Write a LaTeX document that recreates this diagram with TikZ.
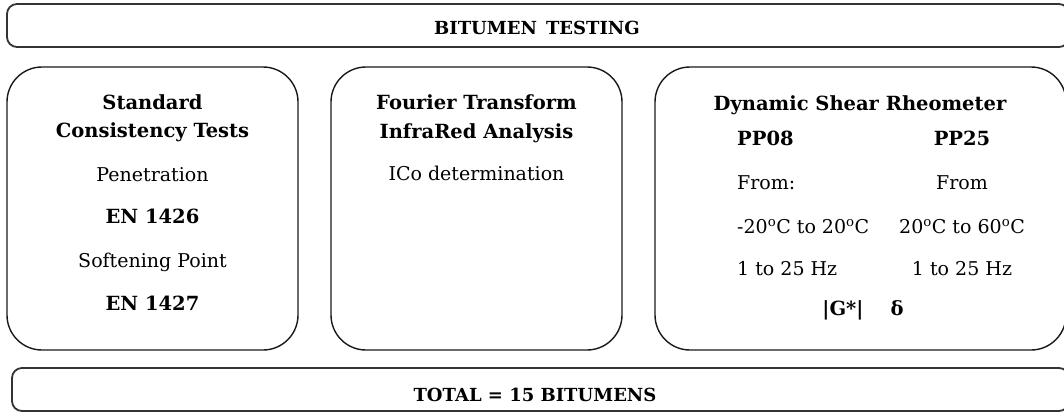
\documentclass[tikz,border=0pt]{standalone}
\usepackage{fontspec}
\setmainfont{DejaVu Serif}
\begin{document}
\begin{tikzpicture}[x=1pt,y=-1pt,
  bar/.style={draw=black!80, line width=1.8pt, rounded corners=10pt, inner sep=0pt},
  panel/.style={draw=black!90, line width=1.4pt, rounded corners=35pt, inner sep=0pt, minimum height=283pt},
  txt/.style={anchor=base, inner sep=0pt, font=\fontsize{19}{22}\selectfont},
  btxt/.style={txt, font=\fontsize{19.5}{22}\selectfont\bfseries},
  bartxt/.style={txt, font=\fontsize{18}{21}\selectfont\bfseries},
  ltxt/.style={txt, anchor=base west}
]
\useasboundingbox (0,0) rectangle (1064,412);
\clip (0,0) rectangle (1064,412);
% bars
\node[bar, minimum width=1062pt, minimum height=43pt] (top) at (538,25.5) {};
\node[bar, minimum width=1057pt, minimum height=43pt] (bottom) at (540.5,389.5) {};
% panels
\node[panel, minimum width=291pt] (p1) at (152.5,208.5) {};
\node[panel, minimum width=291pt] (p2) at (476.5,208.5) {};
\node[panel, minimum width=411pt] (p3) at (860.5,208.5) {};
% bar texts
\node[bartxt] (ttl) at (537,35) {BITUMEN\hspace{0.5em}TESTING};
\node[bartxt] (tot) at (535,401) {TOTAL = 15 BITUMENS};
% panel 1
\node[btxt] (a1) at (152.5,109) {Standard};
\node[btxt] (a2) at (152.5,137) {Consistency Tests};
\node[txt]  (a3) at (152.5,181) {Penetration};
\node[btxt] (a4) at (152.5,223) {EN 1426};
\node[txt]  (a5) at (152.5,267) {Softening Point};
\node[btxt] (a6) at (152.5,310.5) {EN 1427};
% panel 2
\node[btxt] (b1) at (476.5,109) {Fourier Transform};
\node[btxt] (b2) at (476.5,138) {InfraRed Analysis};
\node[txt]  (b3) at (476.5,180) {ICo determination};
% panel 3
\node[btxt] (c0) at (860,110) {Dynamic Shear Rheometer};
\node[btxt, anchor=base west] (c1) at (737,145) {PP08};
\node[ltxt] (c2) at (737,189) {From:};
\node[ltxt] (c3) at (737,233) {-20\textsuperscript{o}C to 20\textsuperscript{o}C};
\node[ltxt] (c4) at (737,275) {1 to 25 Hz};
\node[btxt] (d1) at (962,145) {PP25};
\node[txt]  (d2) at (962,189) {From};
\node[txt]  (d3) at (962,233) {20\textsuperscript{o}C to 60\textsuperscript{o}C};
\node[txt]  (d4) at (962,275) {1 to 25 Hz};
\node[btxt] (e1) at (843,315) {|G*|};
\node[btxt] (e2) at (897,315) {δ};
\end{tikzpicture}
\end{document}
